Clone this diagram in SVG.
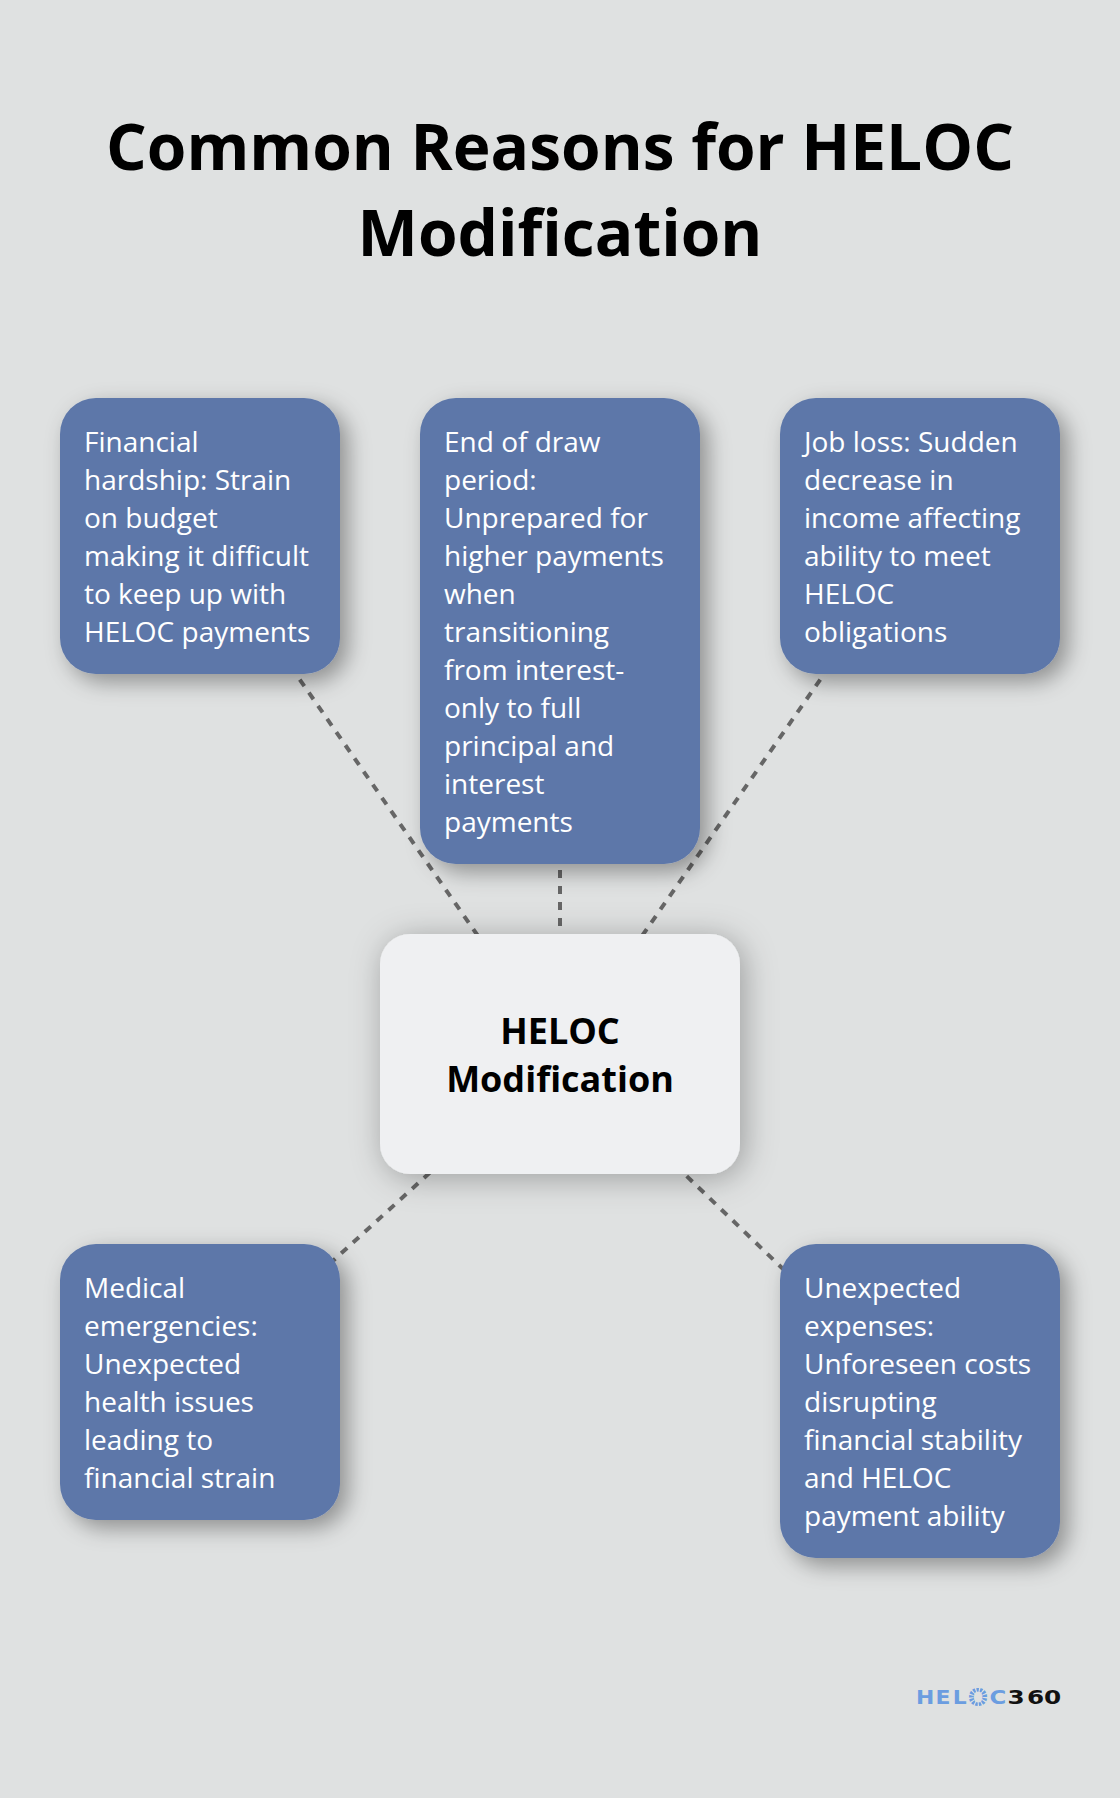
<svg xmlns="http://www.w3.org/2000/svg" width="1120" height="1798" viewBox="0 0 1120 1798">
<defs>
<filter id="sh" x="-30%" y="-30%" width="170%" height="170%"><feDropShadow dx="8" dy="8" stdDeviation="11" flood-color="#000" flood-opacity="0.36"/></filter>
<filter id="shc" x="-30%" y="-30%" width="170%" height="170%"><feDropShadow dx="4" dy="4" stdDeviation="16" flood-color="#000" flood-opacity="0.3"/></filter>
</defs>
<style>
text{font-family:"Open Sans","Noto Sans",sans-serif}
.t{font-size:64px;font-weight:700;fill:#000;text-anchor:middle}
.n{font-size:28px;fill:#fff}
.c{font-size:36px;font-weight:700;fill:#000;text-anchor:middle}
.b{fill:#5d77a9;filter:url(#sh)}
.l{stroke:#666;stroke-width:4;stroke-dasharray:8 8;fill:none}
.lg{font-family:"DejaVu Sans",sans-serif;font-size:19px;font-weight:700}
</style>
<rect width="1120" height="1798" fill="#dfe1e1"/>
<g id="title"><text class="t" x="560" y="170">Common Reasons for HELOC</text><text class="t" x="560" y="256">Modification</text></g>
<g id="connectors">
<line class="l" x1="560" y1="1054" x2="200" y2="536"/>
<line class="l" x1="560" y1="1054" x2="560" y2="631"/>
<line class="l" x1="560" y1="1054" x2="920" y2="536"/>
<line class="l" x1="560" y1="1054" x2="200" y2="1382"/>
<line class="l" x1="560" y1="1054" x2="920" y2="1401"/>
</g>
<g id="node-center"><rect x="380" y="934" width="360" height="240" rx="30" fill="#eff0f2" filter="url(#shc)"/><text class="c" x="560" y="1044">HELOC</text><text class="c" x="560" y="1092">Modification</text></g>
<g id="node-financial"><rect class="b" x="60" y="398" width="280" height="276" rx="36"/><text class="n" x="84" y="452">Financial</text><text class="n" x="84" y="490">hardship: Strain</text><text class="n" x="84" y="528">on budget</text><text class="n" x="84" y="566">making it difficult</text><text class="n" x="84" y="604">to keep up with</text><text class="n" x="84" y="642">HELOC payments</text></g>
<g id="node-draw"><rect class="b" x="420" y="398" width="280" height="466" rx="36"/><text class="n" x="444" y="452">End of draw</text><text class="n" x="444" y="490">period:</text><text class="n" x="444" y="528">Unprepared for</text><text class="n" x="444" y="566">higher payments</text><text class="n" x="444" y="604">when</text><text class="n" x="444" y="642">transitioning</text><text class="n" x="444" y="680">from interest-</text><text class="n" x="444" y="718">only to full</text><text class="n" x="444" y="756">principal and</text><text class="n" x="444" y="794">interest</text><text class="n" x="444" y="832">payments</text></g>
<g id="node-job"><rect class="b" x="780" y="398" width="280" height="276" rx="36"/><text class="n" x="804" y="452">Job loss: Sudden</text><text class="n" x="804" y="490">decrease in</text><text class="n" x="804" y="528">income affecting</text><text class="n" x="804" y="566">ability to meet</text><text class="n" x="804" y="604">HELOC</text><text class="n" x="804" y="642">obligations</text></g>
<g id="node-medical"><rect class="b" x="60" y="1244" width="280" height="276" rx="36"/><text class="n" x="84" y="1298">Medical</text><text class="n" x="84" y="1336">emergencies:</text><text class="n" x="84" y="1374">Unexpected</text><text class="n" x="84" y="1412">health issues</text><text class="n" x="84" y="1450">leading to</text><text class="n" x="84" y="1488">financial strain</text></g>
<g id="node-expenses"><rect class="b" x="780" y="1244" width="280" height="314" rx="36"/><text class="n" x="804" y="1298">Unexpected</text><text class="n" x="804" y="1336">expenses:</text><text class="n" x="804" y="1374">Unforeseen costs</text><text class="n" x="804" y="1412">disrupting</text><text class="n" x="804" y="1450">financial stability</text><text class="n" x="804" y="1488">and HELOC</text><text class="n" x="804" y="1526">payment ability</text></g>
<g id="logo">
<text class="lg" fill="#6b9de0" transform="translate(0,1704) scale(1.15,1)" x="796.5 813.5 828.5" y="0">HEL</text>
<text fill="#6b9de0" x="978" y="1705.8" text-anchor="middle" style="font-family:'DejaVu Sans',sans-serif;font-size:24px;font-weight:700">O</text>
<circle cx="978" cy="1697" r="7.5" fill="none" stroke="#dfe1e1" stroke-width="6" stroke-dasharray="1.2 2.4"/>
<text class="lg" fill="#6b9de0" transform="translate(0,1704) scale(1.2,1)" x="824.5" y="0">C</text>
<text class="lg" fill="#111" transform="translate(0,1704) scale(1.3,1)" x="775 790 803" y="0">360</text>
</g>
</svg>
